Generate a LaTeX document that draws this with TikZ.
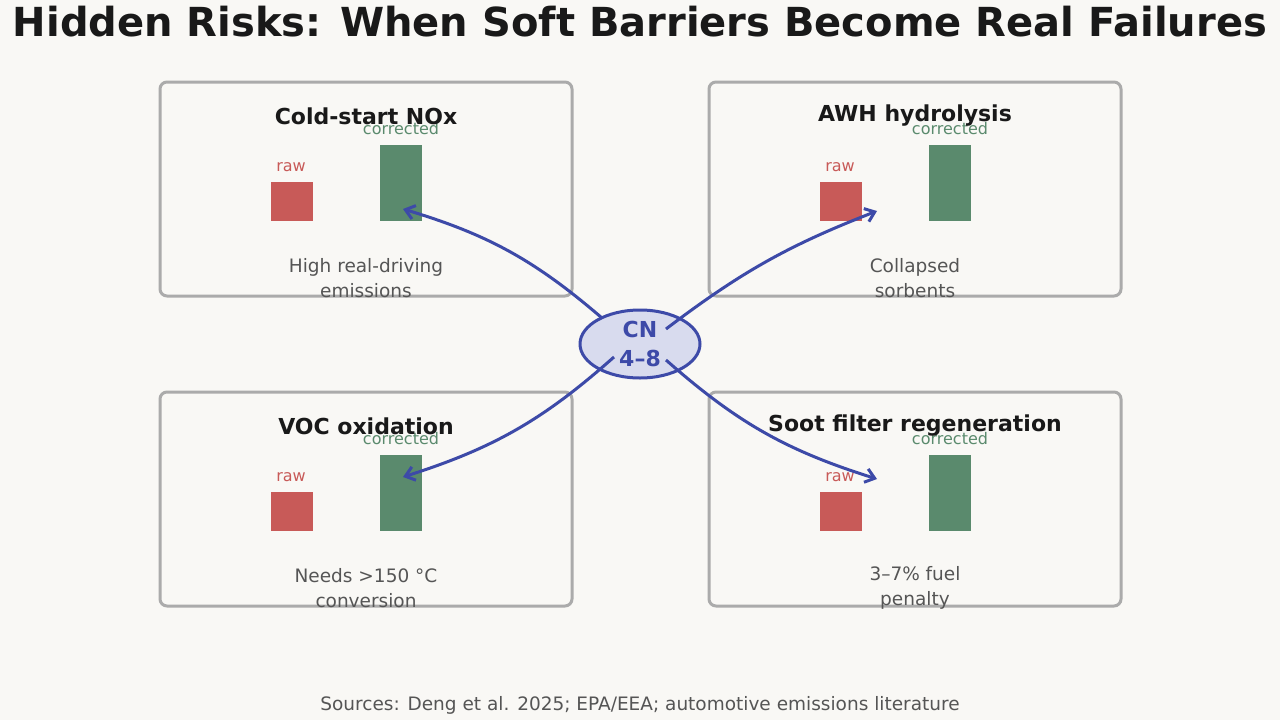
\documentclass[tikz,border=0pt]{standalone}
\usepackage{fontspec}
\setmainfont{DejaVu Sans}
\usetikzlibrary{arrows.meta, shapes.geometric}
\definecolor{bgc}{HTML}{F9F8F5}
\definecolor{rawc}{HTML}{C85A58}
\definecolor{corc}{HTML}{5A8A6D}
\definecolor{hubc}{HTML}{3D4AA8}
\definecolor{txtc}{HTML}{555555}
\tikzset{
  panel/.style={draw=black!33, line width=3pt, rounded corners=7pt},
  ptitle/.style={font=\fontsize{22}{26}\selectfont\bfseries, text=black!90},
  small/.style={font=\fontsize{16}{19}\selectfont},
  ptext/.style={font=\fontsize{18.5}{25}\selectfont, text=txtc, align=center},
  link/.style={draw=hubc, line width=3pt, -{Straight Barb[length=9pt,width=14pt]}}
}
\begin{document}
\begin{tikzpicture}[x=1pt,y=-1pt]
  \fill[bgc] (0,0) rectangle (1280,720);
  \useasboundingbox (0,0) rectangle (1280,720);

  \node[font=\fontsize{40}{46}\selectfont\bfseries, text=black!90] (title) at (640,22) {Hidden Risks: When Soft Barriers Become Real Failures};

  % panels: dx, dy, name, title, caption
  \foreach \dx/\dy/\nm/\ttl/\cp in {
      0/0/nox/{Cold-start NOx}/{High real-driving\\emissions},
      549/0/awh/{AWH hydrolysis}/{Collapsed\\sorbents},
      0/310/voc/{VOC oxidation}/{Needs >150 °C\\conversion},
      549/310/soot/{Soot filter regeneration}/{3–7\% fuel\\penalty}} {
    \begin{scope}[shift={(\dx,\dy)}]
      \draw[panel] (160,82) rectangle (572,296);
      \fill[rawc] (271,182) rectangle (313,221);
      \fill[corc] (380,145) rectangle (422,221);
      \node[small, text=rawc] (\nm-raw) at (291,167) {raw};
      \node[small, text=corc] (\nm-cor) at (401,129) {corrected};
      \node[ptitle] (\nm-t) at (366,116) {\ttl};
      \node[ptext] (\nm-c) at (366,278) {\cp};
    \end{scope}
  }

  \node[ellipse, draw=hubc, fill=hubc!20, line width=3pt, minimum width=120pt,
        minimum height=68pt, inner sep=0pt, text=hubc, align=center,
        font=\fontsize{22}{29}\selectfont\bfseries] (cn) at (640,344) {CN\\4–8};

  \coordinate (e1) at (403,209);
  \coordinate (e2) at (877,211);
  \coordinate (e3) at (403,477);
  \coordinate (e4) at (877,479);
  \draw[link] (602,318) to[bend right=12] (e1);
  \draw[link] (666,329) to[bend left=8] (e2);
  \draw[link] (614,357) to[bend left=12] (e3);
  \draw[link] (666,360) to[bend right=12] (e4);

  \node[ptext] (src) at (640,705) {Sources: Deng et al. 2025; EPA/EEA; automotive emissions literature};
\end{tikzpicture}
\end{document}
